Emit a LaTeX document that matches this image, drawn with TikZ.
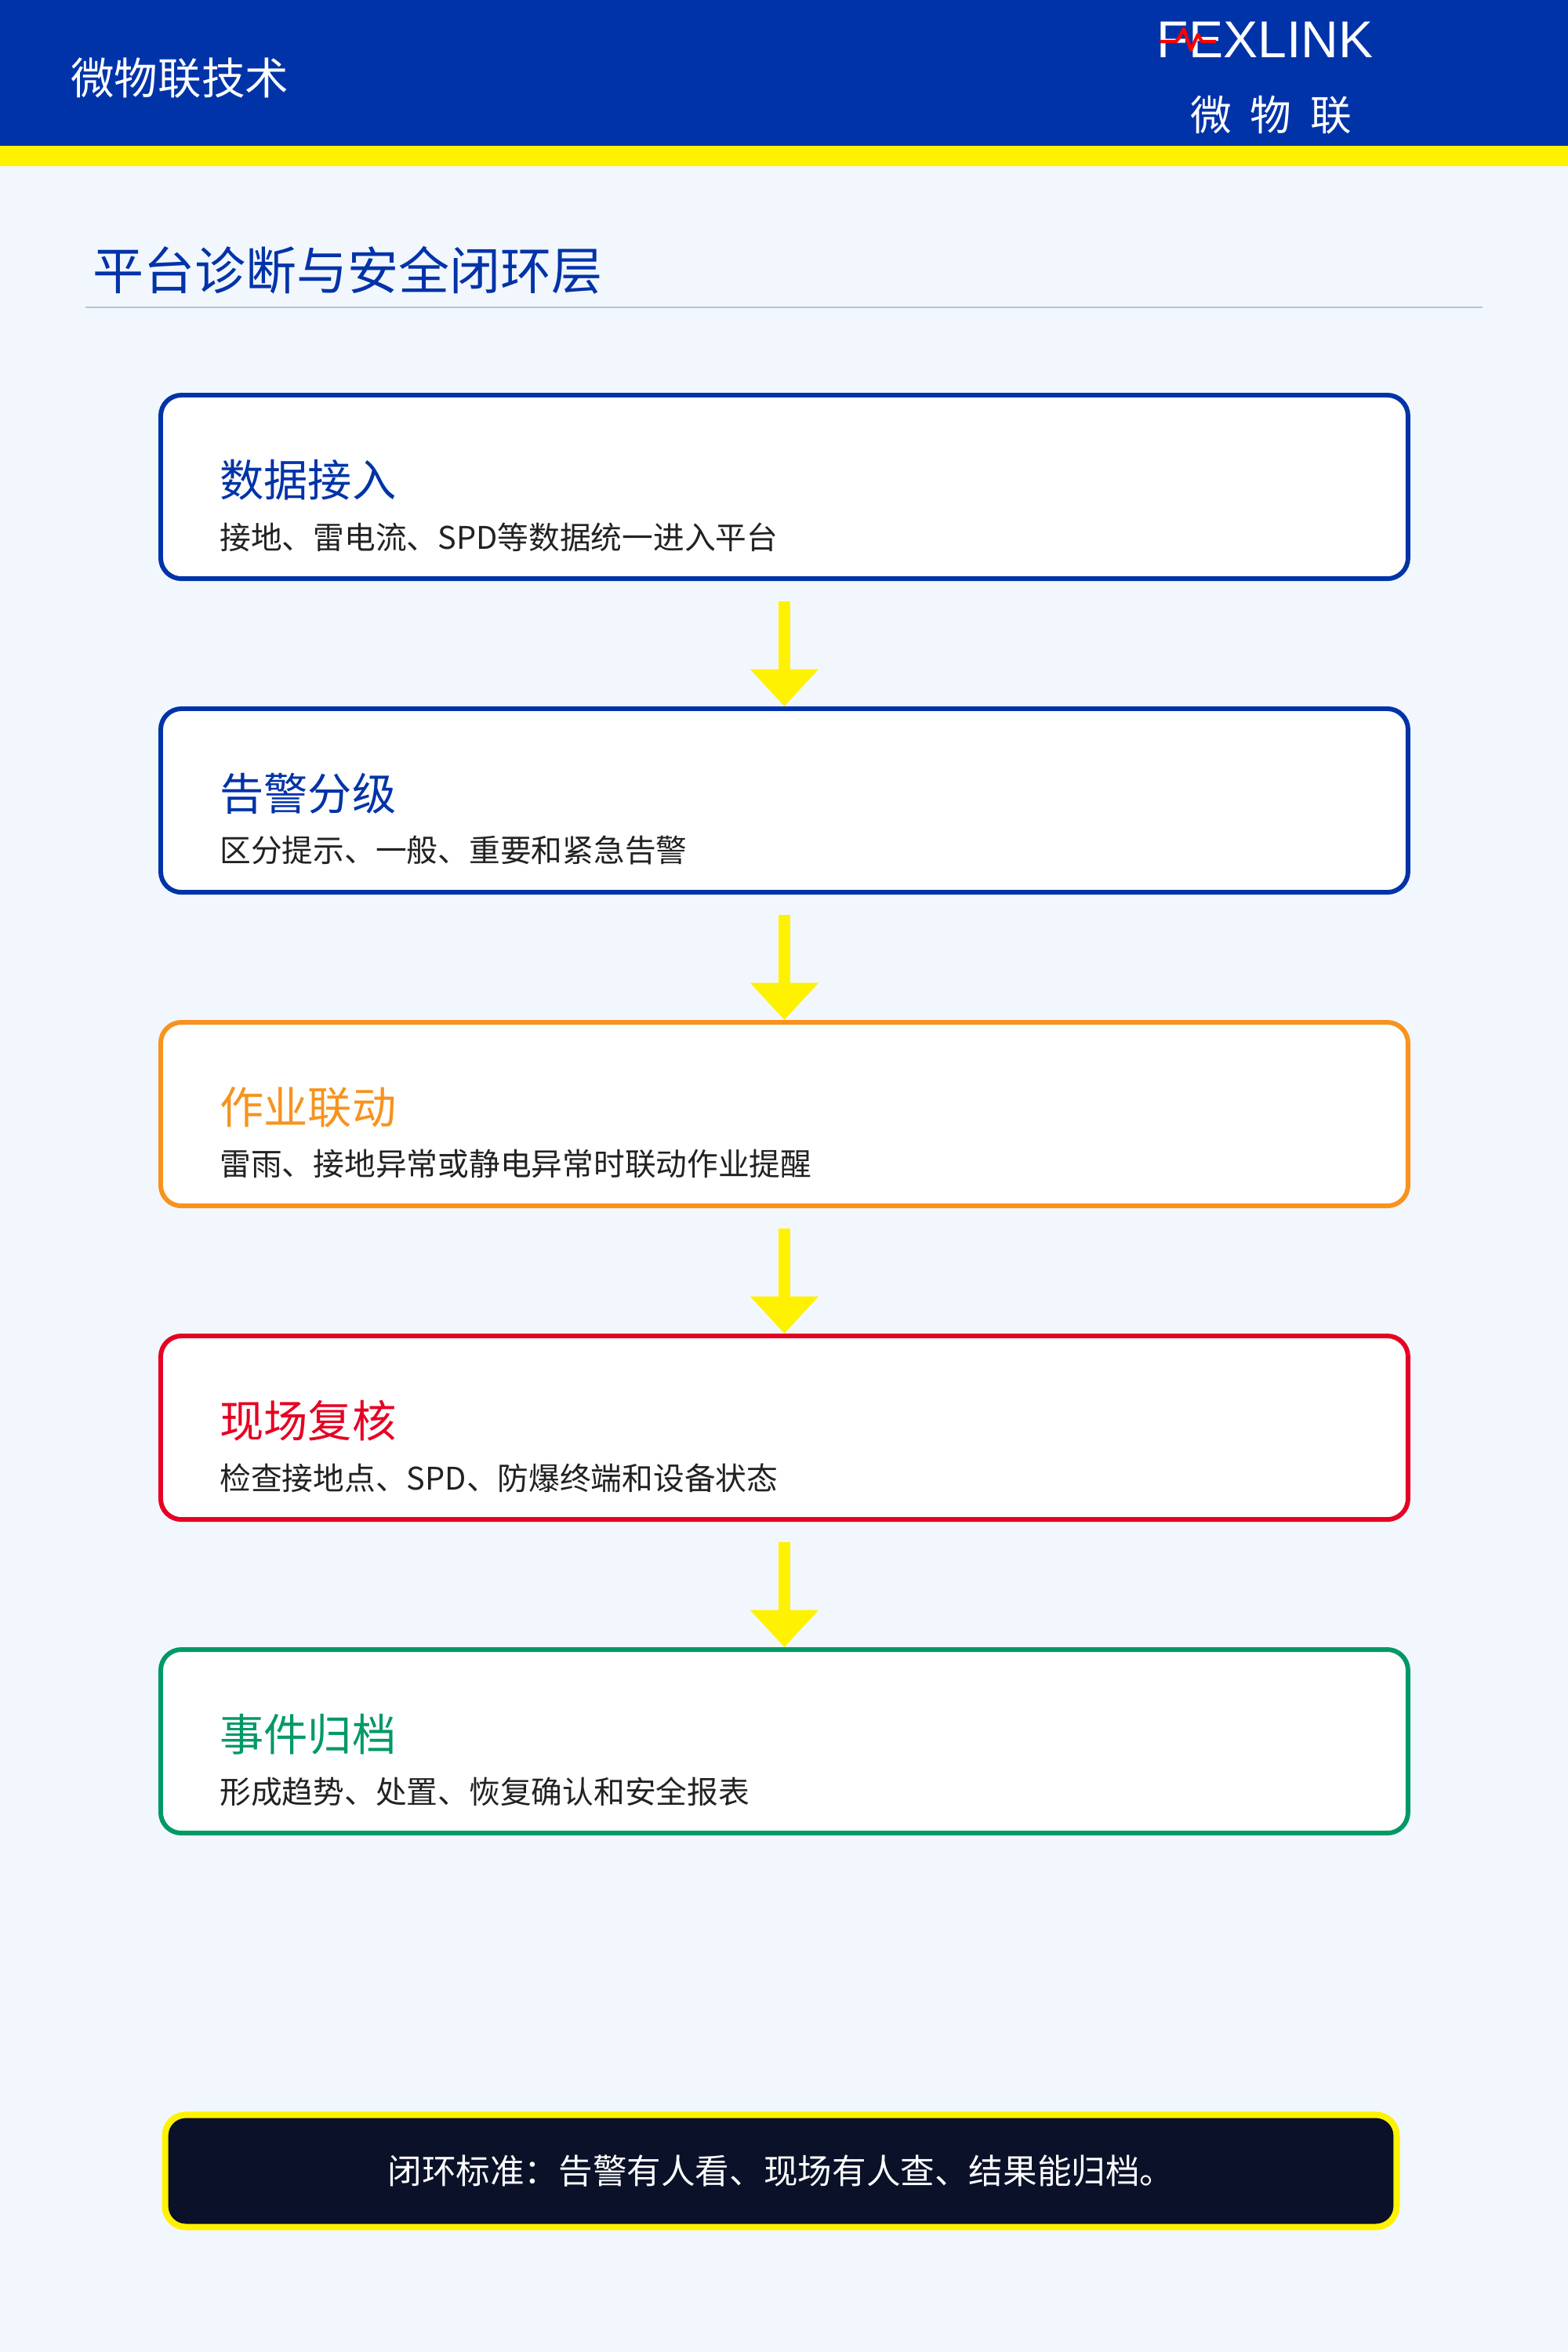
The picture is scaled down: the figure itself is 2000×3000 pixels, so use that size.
\documentclass[tikz,border=0pt]{standalone}
\usepackage{fontspec}
\setmainfont{Noto Sans CJK SC}
\newfontfamily\logofont{Liberation Sans}
\usetikzlibrary{arrows.meta,calc}
\definecolor{hblue}{HTML}{0033A8}
\definecolor{ybar}{HTML}{FFF200}
\definecolor{bg}{HTML}{F2F7FD}
\definecolor{corange}{HTML}{F7931E}
\definecolor{cred}{HTML}{E60023}
\definecolor{cgreen}{HTML}{009966}
\definecolor{navy}{HTML}{0A1128}
\definecolor{txt}{HTML}{222222}
\definecolor{rule}{HTML}{B8C4D6}
\begin{document}
\begin{tikzpicture}[x=0.01cm,y=-0.01cm,
  card/.style={draw=#1,line width=1.7pt,rounded corners=7.5pt,fill=white,minimum width=15.90cm,minimum height=2.34cm,anchor=north west},
  ttl/.style={anchor=west,font=\fontsize{16}{18}\selectfont,text=#1},
  sub/.style={anchor=west,font=\fontsize{11.3}{13}\selectfont,text=txt},
  arr/.style={draw=ybar,line width=4.3pt,-{Triangle[width=24pt,length=13.5pt]}}]
\useasboundingbox (0,0) rectangle (2000,3000);
\fill[fill=bg] (0,0) rectangle (2000,3000);
\fill[fill=hblue] (0,0) rectangle (2000,186);
\fill[fill=ybar] (0,186) rectangle (2000,212);
\node[anchor=west,text=white,font=\fontsize{15.8}{18}\selectfont] (hd) at (78,100) {微物联技术};
\node[anchor=west,text=white,font=\logofont\fontsize{18.8}{20}\selectfont,inner sep=0] (logo) at (1475,51) {FEXLINK};
\draw[red,line width=1.2pt,line join=round] (1480,53) -- (1500,53) -- (1504,48) -- (1510,37) -- (1519,64) -- (1528,44) -- (1533,53) -- (1551,53);
\node[text=white,font=\fontsize{15}{18}\selectfont] (logocn) at (1621,147) {微\hspace{0.45em}物\hspace{0.45em}联};
\node[anchor=west,text=hblue,font=\fontsize{18.5}{22}\selectfont] (title) at (106,345) {平台诊断与安全闭环层};
\draw[draw=rule,line width=0.6pt] (109,392) -- (1891,392);
\foreach \i/\c/\t/\s in {0/hblue/数据接入/{接地、雷电流、SPD等数据统一进入平台},1/hblue/告警分级/{区分提示、一般、重要和紧急告警},2/corange/作业联动/{雷雨、接地异常或静电异常时联动作业提醒},3/cred/现场复核/{检查接地点、SPD、防爆终端和设备状态},4/cgreen/事件归档/{形成趋势、处置、恢复确认和安全报表}}{
  \node[card=\c] (b\i) at (202,501+400*\i) {};
  \node[ttl=\c] (t\i) at (268,612+400*\i) {\t};
  \node[sub] (s\i) at (268,685+400*\i) {\s};
}
\foreach \i [count=\j] in {0,...,3}{
  \coordinate (a\i) at ($(b\i.south)+(0,26)$);
  \draw[arr] (a\i) -- (b\j.north);
}
\node[draw=ybar,fill=navy,line width=2.3pt,rounded corners=7.5pt,minimum width=15.7cm,minimum height=1.43cm,text=white,font=\fontsize{12.4}{14}\selectfont] (std) at (996,2769) {闭环标准：告警有人看、现场有人查、结果能归档。};
\end{tikzpicture}
\end{document}
